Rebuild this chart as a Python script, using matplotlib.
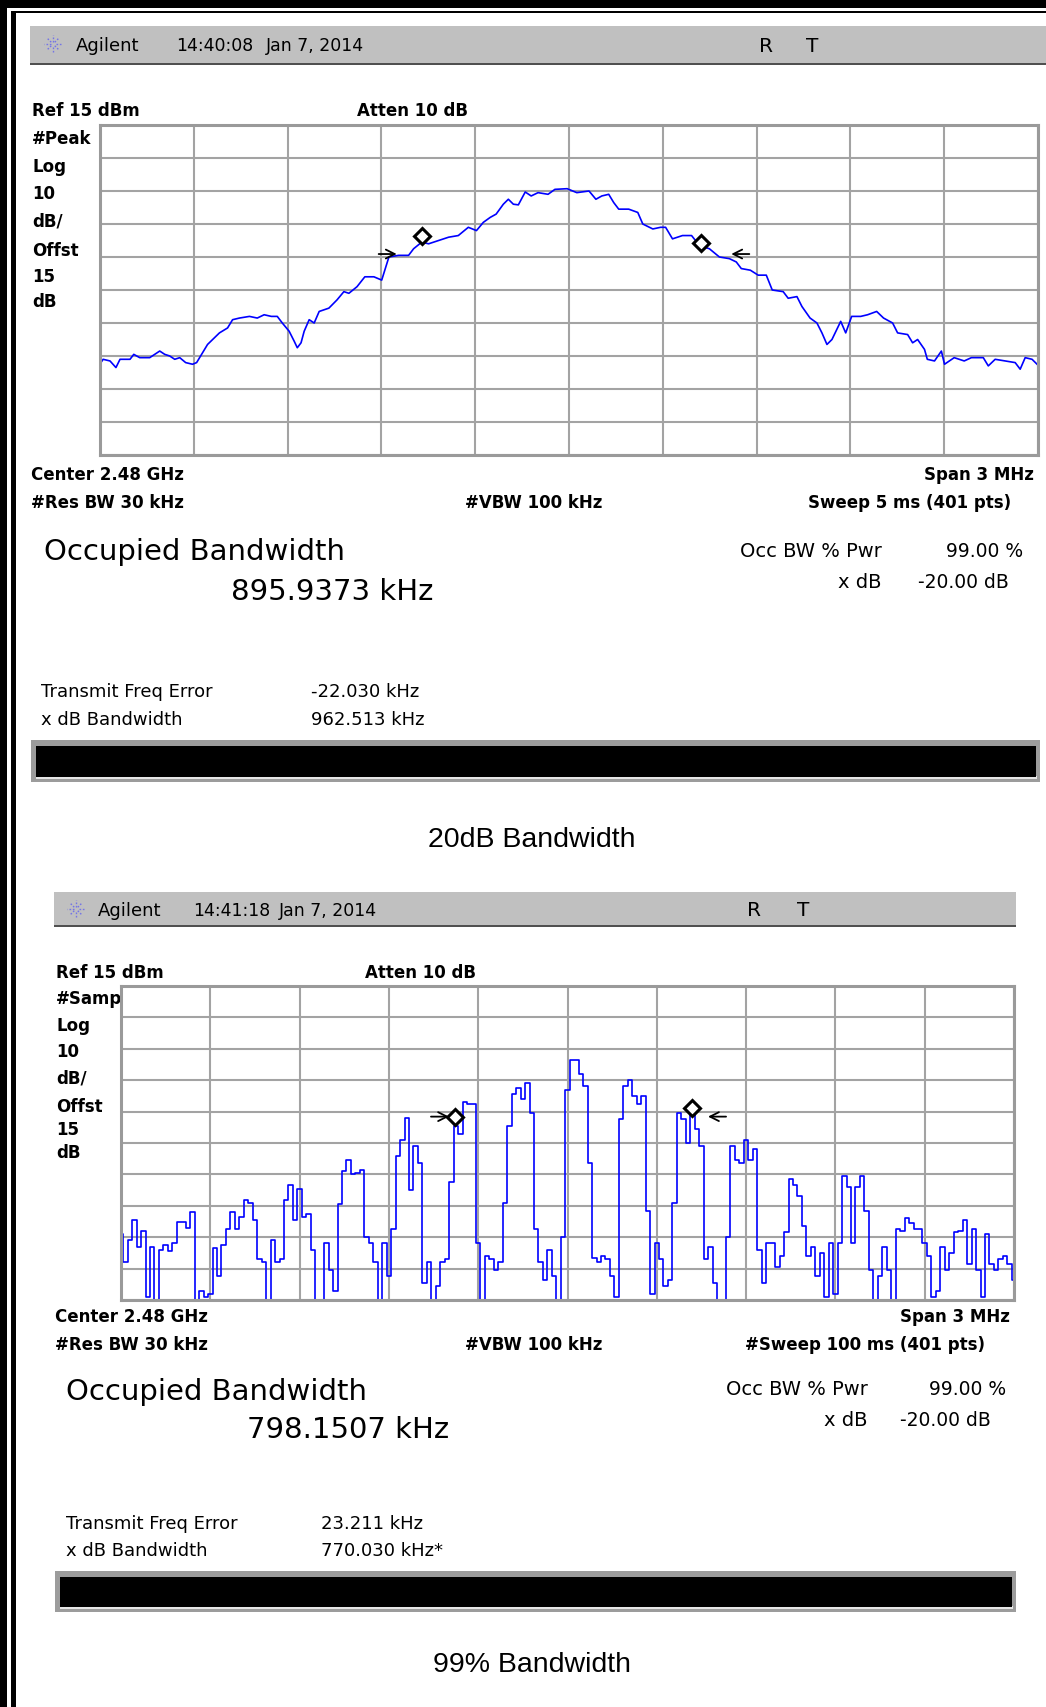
import numpy as np
import matplotlib.pyplot as plt
from matplotlib.patches import Rectangle
from matplotlib.lines import Line2D
from matplotlib.transforms import Affine2D

W, H = 1046, 1708

# --- trace 1: 20 dB bandwidth (peak detector), offset from 2.48 GHz in kHz, level in dBm
f1 = [-1500, -1490, -1468, -1449, -1436, -1404, -1392, -1373, -1341, -1325,
      -1309, -1293, -1277, -1261, -1245, -1226, -1204, -1191, -1172, -1156,
      -1134, -1118, -1092, -1076, -1054, -1022, -997, -975, -952, -933,
      -917, -895, -879, -869, -857, -847, -831, -815, -799, -768,
      -742, -720, -704, -678, -653, -624, -599, -576, -545, -513,
      -497, -471, -449, -417, -385, -354, -322, -296, -274, -252,
      -233, -210, -194, -178, -162, -140, -121, -99, -67, -45,
      -6, 25, 64, 86, 105, 127, 143, 159, 191, 220,
      236, 268, 293, 309, 331, 363, 392, 417, 449, 481,
      513, 535, 551, 580, 605, 631, 650, 685, 701, 729,
      745, 771, 793, 809, 825, 841, 869, 885, 904, 933,
      955, 984, 1006, 1035, 1051, 1083, 1099, 1115, 1137, 1146,
      1169, 1191, 1201, 1232, 1264, 1287, 1325, 1341, 1363, 1395,
      1427, 1443, 1459, 1481, 1497]
p1 = [-57.4, -56, -56.5, -58.5, -56, -56, -54.5, -55.5, -55.5, -54.5,
      -53.5, -54.5, -55, -56, -55.5, -57, -57.5, -57, -54, -51.5,
      -49.5, -48, -46.5, -44, -43.5, -43, -43.5, -42.5, -43, -43,
      -45, -47.5, -50.5, -52.5, -51, -47.5, -44, -45, -41.5, -40.5,
      -38, -35.5, -36, -34, -31, -31, -32, -25, -24.5, -24.5,
      -22.5, -20.5, -21, -20, -19, -18.5, -16, -17, -14.5, -13,
      -12, -9, -7.5, -9, -9.2, -5.3, -6.5, -5.5, -6, -4.5,
      -4.3, -5.5, -5, -7.5, -6.5, -6, -8.5, -10.5, -10.5, -11.5,
      -15, -16.5, -16, -16, -19.5, -18.5, -18.5, -21.5, -22.5, -25,
      -25.5, -26.5, -28.5, -29, -30.5, -30.5, -35, -35.5, -37.5, -37,
      -40, -43.5, -45, -48, -51.5, -50, -44.5, -48, -43, -43,
      -42.5, -41.5, -43.5, -45, -48, -48.5, -51, -50, -53, -56,
      -56.5, -53.5, -57.5, -55.5, -56.5, -55.5, -55.5, -58, -56, -56.5,
      -57, -59, -55.5, -56, -57.5]
occ1_f = [-471, 422]
occ1_p = [-18.5, -20.8]
xdb1_f = [-551, 519]
xdb1_p = [-24.1, -24.1]

# --- trace 2: 99 % bandwidth (sample detector), 15 kHz steps
p2 = [-64, -73, -66, -59.5, -68, -63, -84, -68, -85, -69,
      -67.5, -69.5, -67, -60, -60, -62, -57, -85, -82, -84,
      -83, -68.5, -77.5, -67.5, -62.5, -57, -62.5, -58.5, -53, -54,
      -59.5, -72, -73, -85, -66, -73, -72, -53, -48.5, -59.5,
      -49.5, -58.5, -57.5, -69, -85, -85, -67, -75.5, -82, -54.5,
      -44, -40.5, -45, -44.5, -43.5, -65, -67, -73, -85, -67,
      -77.5, -62.5, -39, -34, -27, -50, -36, -41.5, -79.5, -73,
      -85, -80.5, -73, -72, -47.5, -29.5, -32, -22, -22.5, -22.5,
      -67, -85, -71, -72, -75.5, -73, -54, -29.5, -19.5, -17.5,
      -21, -16, -25.5, -62.5, -73, -78.5, -69, -77.5, -85, -65,
      -18, -8.5, -8.5, -13, -17, -41.5, -71.5, -73, -71, -72,
      -77.5, -84, -27.5, -17, -15, -20, -22.5, -20, -56.5, -83,
      -67, -72, -80.5, -78.5, -54, -25.5, -27.5, -35, -25.5, -30.5,
      -36, -72, -68, -79.5, -85, -85, -65, -36, -40.5, -41.5,
      -34, -40.5, -37, -69, -79.5, -67, -67, -74.5, -71, -63.5,
      -46.5, -48.5, -52, -61.5, -71, -68, -77.5, -70, -84, -67,
      -83, -67, -45.5, -49, -67, -49, -45.5, -56.5, -75.5, -85,
      -77.5, -68, -75.5, -85, -62.5, -63, -59, -60.5, -62.5, -62.5,
      -67, -71, -84, -82, -68, -75.5, -70, -63.5, -63, -59.5,
      -73.5, -62.5, -75.5, -84, -64, -73.5, -75.5, -72, -71, -73.5,
      -78.5]
f2 = np.linspace(-1500, 1500, len(p2))
occ2_f = [-378, 419]
occ2_p = [-26.6, -24.0]
xdb2_f = [-398, 472]
xdb2_p = [-26.6, -26.6]

side_labels1 = ['#Peak', 'Log', '10', 'dB/', 'Offst', '15', 'dB']
side_labels2 = ['#Samp', 'Log', '10', 'dB/', 'Offst', '15', 'dB']

fig = plt.figure(figsize=(W / 100, H / 100), dpi=100)
pix = Affine2D().scale(1.0 / W, -1.0 / H).translate(0, 1) + fig.transFigure


def box(x0, y0, x1, y1, color, z=1):
    fig.add_artist(Rectangle((x0, y0), x1 - x0, y1 - y0, transform=pix,
                             facecolor=color, edgecolor='none', zorder=z))


def label(x, y, s, size, weight='normal', ha='left', family='DejaVu Sans', z=3):
    fig.text(x, y, s, transform=pix, fontsize=size, fontweight=weight,
             ha=ha, va='center', family=family, zorder=z)


def icon(cx, cy):
    for a in np.deg2rad(np.arange(0, 360, 45)):
        fig.add_artist(Line2D([cx + 2.5 * np.cos(a), cx + 9 * np.cos(a)],
                              [cy + 2.5 * np.sin(a), cy + 9 * np.sin(a)],
                              transform=pix, color='#7474e6', lw=1.0, ls=(0, (1.2, 1.2))))


def panel(L, f, p, occ_f, occ_p, xdb_f, xdb_p, sides, texts, ds):
    # header bar
    box(L['hx0'], L['hy0'], L['hx1'], L['hy1'], '#c0c0c0')
    box(L['hx0'], L['hy1'], L['hx1'], L['hy1'] + 2, '#505050')
    icon(*L['icon'])
    hy = L['hy']
    label(L['agilent'], hy, 'Agilent', 13)
    label(L['time'], hy, texts['time'], 12.5)
    label(L['date'], hy, texts['date'], 12.5)
    label(L['R'], hy, 'R', 14.5)
    label(L['T'], hy, 'T', 14.5)
    # top labels
    label(L['lx'], L['refy'], 'Ref 15 dBm', 12, 'bold')
    label(L['atten'], L['refy'], 'Atten 10 dB', 12, 'bold')
    for s, y in zip(sides, L['sidey']):
        label(L['lx'], y, s, 12, 'bold', z=-1)

    x0, y0, x1, y1 = L['plot']
    ax = fig.add_axes([x0 / W, 1 - y1 / H, (x1 - x0) / W, (y1 - y0) / H], zorder=0)
    ax.set_xlim(-1500, 1500)
    ax.set_ylim(-85, 15)
    ax.set_xticks(np.linspace(-1500, 1500, 11))
    ax.set_yticks(np.linspace(-85, 15, 11))
    ax.grid(True, color='#a3a3a3', lw=1.5)
    ax.set_axisbelow(True)
    ax.tick_params(length=0, labelbottom=False, labelleft=False)
    for sp in ax.spines.values():
        sp.set_color('#9a9a9a')
        sp.set_linewidth(2.2)
    ax.plot(f, p, color='#0000ff', lw=1.2, drawstyle=ds)
    ax.plot(occ_f, occ_p, ls='none', marker='D', ms=8, mfc='white', mec='black', mew=2.2)
    for xf, xp, d in zip(xdb_f, xdb_p, [-1, 1]):
        ax.annotate('', xy=(xf, xp), xytext=(d * 13, 0), textcoords='offset points',
                    arrowprops=dict(arrowstyle='->', color='black', lw=1.3,
                                    mutation_scale=16, shrinkA=0, shrinkB=0))

    # bottom labels
    label(L['cx'], L['cy'], 'Center 2.48 GHz', 12, 'bold')
    label(L['spanr'], L['cy'], 'Span 3 MHz', 12, 'bold', ha='right')
    label(L['cx'], L['ry'], '#Res BW 30 kHz', 12, 'bold')
    label(L['vbw'], L['ry'], '#VBW 100 kHz', 12, 'bold', ha='center')
    label(L['sweepr'], L['ry'], texts['sweep'], 12, 'bold', ha='right')

    label(L['occ'][0], L['occ'][1], 'Occupied Bandwidth', 21)
    label(L['occv'][0], L['occv'][1], texts['occ'], 21)
    label(L['pwrr'], L['pwry'], 'Occ BW % Pwr', 14, ha='right')
    label(L['pwrv'], L['pwry'], '99.00 %', 13.5)
    label(L['pwrr'], L['xdby'], 'x dB', 14, ha='right')
    label(L['xdbv'], L['xdby'], '-20.00 dB', 13.5)

    label(L['tfe'][0], L['tfe'][1], 'Transmit Freq Error', 13)
    label(L['tfev'], L['tfe'][1], texts['tfe'], 13)
    label(L['tfe'][0], L['bwy'], 'x dB Bandwidth', 13)
    label(L['tfev'], L['bwy'], texts['xdbbw'], 13)

    bx0, by0, bx1, by1 = L['bar']
    box(bx0, by0, bx1, by1, '#9c9c9c')
    box(bx0 + 5, by1 - 6, bx1 - 3, by1 - 3, '#e6e6e6')
    box(bx0 + 5, by0 + 6, bx1 - 4, by1 - 5, '#000000', z=2)

    label(L['cap'][0], L['cap'][1], texts['cap'], 20.5, ha='center',
          family='Liberation Sans')


L1 = dict(hx0=30, hx1=1046, hy0=27, hy1=64, hy=46, icon=(53, 45),
          agilent=76, time=176, date=266, R=759, T=806,
          lx=32, refy=111, atten=357, sidey=[139, 167, 194, 222, 251, 277, 302],
          plot=(100, 126, 1038, 456),
          cx=31, cy=475, spanr=1034, ry=503, vbw=534, sweepr=1011,
          occ=(44, 552), occv=(231, 592), pwrr=882, pwry=552, pwrv=946,
          xdby=583, xdbv=918, tfe=(41, 692), tfev=311, bwy=720,
          bar=(31, 741, 1040, 783), cap=(532, 840))
L2 = dict(hx0=54, hx1=1016, hy0=893, hy1=926, hy=911, icon=(76, 910),
          agilent=98, time=193, date=279, R=747, T=797,
          lx=56, refy=973, atten=365, sidey=[999, 1026, 1052, 1079, 1107, 1130, 1153],
          plot=(121, 987, 1014, 1301),
          cx=55, cy=1317, spanr=1010, ry=1345, vbw=534, sweepr=985,
          occ=(66, 1392), occv=(247, 1430), pwrr=868, pwry=1390, pwrv=929,
          xdby=1421, xdbv=900, tfe=(66, 1524), tfev=321, bwy=1551,
          bar=(55, 1572, 1016, 1613), cap=(532, 1665))

panel(L1, f1, p1, occ1_f, occ1_p, xdb1_f, xdb1_p, side_labels1,
      dict(time='14:40:08', date='Jan 7, 2014', sweep='Sweep 5 ms (401 pts)',
           occ='895.9373 kHz', tfe='-22.030 kHz', xdbbw='962.513 kHz',
           cap='20dB Bandwidth'), 'default')
panel(L2, f2, p2, occ2_f, occ2_p, xdb2_f, xdb2_p, side_labels2,
      dict(time='14:41:18', date='Jan 7, 2014', sweep='#Sweep 100 ms (401 pts)',
           occ='798.1507 kHz', tfe='23.211 kHz', xdbbw='770.030 kHz*',
           cap='99% Bandwidth'), 'steps-mid')

# outer frame (double black border, top and left)
box(0, 0, W, 9, '#000000', z=5)
box(0, 0, 7, H, '#000000', z=5)
box(11, 12, W, 14, '#000000', z=5)
box(11, 12, 16, H, '#000000', z=5)

fig.savefig('out.png', dpi=100)
